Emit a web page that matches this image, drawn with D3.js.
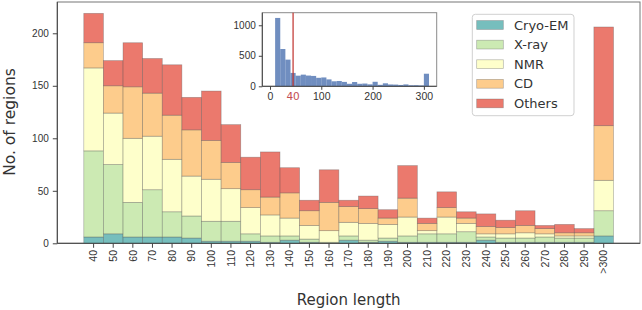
<!DOCTYPE html>
<html lang="en">
<head>
    <meta charset="UTF-8">
    <title>Region length distribution</title>
    <script src="https://cdn.jsdelivr.net/npm/d3@7/dist/d3.min.js"></script>
    <style>
        body { margin: 0; background: #fff; }
        svg { font-family: "DejaVu Sans", sans-serif; display: block; }
        .tick text { fill: #333; }
        .tick line, .domain { stroke: #444; }
    </style>
</head>
<body>
    <div id="chart"></div>

    <script>
        // =============================
        // 1. Data
        // =============================
        const lengthLabels = ["40", "50", "60", "70", "80", "90", "100", "110", "120", "130", "140", "150", "160",
            "170", "180", "190", "200", "210", "220", "230", "240", "250", "260", "270", "280", "290", ">300"];
        const cryoEM = [6, 9, 6, 6, 6, 5, 2, 2, 2, 1, 3, 1, 0, 3, 1, 2, 1, 1, 1, 1, 3, 1, 1, 1, 1, 1, 7];
        const xray   = [82, 66, 33, 45, 24, 21, 19, 19, 7, 6, 4, 3, 1, 4, 2, 3, 6, 8, 8, 10, 3, 4, 4, 5, 4, 4, 24];
        const nmr    = [79, 49, 61, 51, 50, 38, 40, 31, 25, 20, 17, 13, 11, 13, 16, 13, 18, 3, 16, 8, 3, 4, 5, 3, 2, 2, 29];
        const cd     = [24, 26, 49, 41, 42, 44, 37, 25, 17, 17, 24, 14, 27, 15, 14, 6, 18, 7, 9, 5, 7, 6, 7, 5, 3, 3, 52];
        const others = [28, 24, 42, 33, 48, 31, 47, 36, 31, 43, 24, 10, 31, 6, 12, 8, 31, 5, 15, 6, 12, 7, 14, 3, 8, 4, 94];

        const seriesNames = ["Cryo-EM", "X-ray", "NMR", "CD", "Others"];
        const seriesColors = ["#54aead", "#bfe5a0", "#feffbe", "#fdbf6f", "#e65848"];

        // inset histogram: bins below the cut-off, the rest are the stacked totals
        const insetBins = [10, 20, 30, 40, 50, 60, 70, 80, 90, 100, 110, 120, 130, 140, 150, 160, 170,
            180, 190, 200, 210, 220, 230, 240, 250, 260, 270, 280, 290, 300];
        const shortCounts = [1120, 611, 437];
        const binWidth = 10;
        const cutoffLine = 45;
        const cutoffLabel = "40";

        // =============================
        // 2. SVG setup
        // =============================
        const width = 642, height = 310;
        const plot = { left: 57.3, right: 640, top: 2, bottom: 243.3 };

        const svg = d3.select("#chart").append("svg")
            .attr("width", width)
            .attr("height", height);

        const table = lengthLabels.map((l, i) => ({
            label: l,
            "Cryo-EM": cryoEM[i], "X-ray": xray[i], "NMR": nmr[i], "CD": cd[i], "Others": others[i]
        }));
        const stacked = d3.stack().keys(seriesNames)(table);
        const totals = table.map(d => d3.sum(seriesNames, k => d[k]));

        const x = d3.scaleBand()
            .domain(lengthLabels)
            .range([plot.left, plot.right])
            .paddingInner(0)
            .paddingOuter(1.35);

        const y = d3.scaleLinear()
            .domain([0, 229.8])
            .range([plot.bottom, plot.top]);

        const color = d3.scaleOrdinal().domain(seriesNames).range(seriesColors);

        // frame
        svg.append("rect")
            .attr("x", plot.left).attr("y", plot.top)
            .attr("width", plot.right - plot.left)
            .attr("height", plot.bottom - plot.top)
            .attr("fill", "none")
            .attr("stroke", "#777")
            .attr("stroke-width", 1);

        // =============================
        // 3. Stacked bars
        // =============================
        svg.append("g")
            .selectAll("g")
            .data(stacked)
            .join("g")
            .attr("fill", d => color(d.key))
            .attr("fill-opacity", 0.8)
            .selectAll("rect")
            .data(d => d)
            .join("rect")
            .attr("x", d => x(d.data.label))
            .attr("width", x.bandwidth())
            .attr("y", d => y(d[1]))
            .attr("height", d => y(d[0]) - y(d[1]))
            .attr("stroke", "#5a5a5a")
            .attr("stroke-opacity", 0.45)
            .attr("stroke-width", 0.7);

        // axes
        const xAxis = svg.append("g")
            .attr("transform", `translate(0, ${plot.bottom})`)
            .call(d3.axisBottom(x).tickSize(4.5).tickSizeOuter(0));
        xAxis.select(".domain").remove();
        xAxis.selectAll("text")
            .attr("transform", "rotate(-90)")
            .attr("text-anchor", "end")
            .attr("x", -6.7)
            .attr("y", 0)
            .attr("dy", "0.35em")
            .attr("font-size", "10.5px");

        svg.append("line")
            .attr("x1", plot.left).attr("x2", plot.right)
            .attr("y1", plot.bottom).attr("y2", plot.bottom)
            .attr("stroke", "#444");

        const yAxis = svg.append("g")
            .attr("transform", `translate(${plot.left}, 0)`)
            .call(d3.axisLeft(y).tickValues([0, 50, 100, 150, 200]).tickSize(4.5).tickPadding(4).tickSizeOuter(0));
        yAxis.select(".domain").attr("d", `M0,${plot.bottom}V${plot.top}`);
        yAxis.selectAll("text").attr("font-size", "10px");

        svg.append("text")
            .attr("x", (plot.left + plot.right) / 2)
            .attr("y", 305)
            .attr("text-anchor", "middle")
            .attr("font-size", "15px")
            .attr("fill", "#333")
            .text("Region length");

        svg.append("text")
            .attr("transform", `translate(15, 122) rotate(-90)`)
            .attr("text-anchor", "middle")
            .attr("font-size", "15.5px")
            .attr("fill", "#333")
            .text("No. of regions");

        // =============================
        // 4. Legend
        // =============================
        const legend = svg.append("g").attr("transform", "translate(472.3, 14.3)");
        legend.append("rect")
            .attr("width", 101.7).attr("height", 101.4)
            .attr("rx", 3)
            .attr("fill", "#fff").attr("fill-opacity", 0.8)
            .attr("stroke", "#d0d0d0");
        const items = legend.selectAll("g.item")
            .data(seriesNames)
            .join("g")
            .attr("class", "item")
            .attr("transform", (d, i) => `translate(4.4, ${10.7 + i * 19.6})`);
        items.append("rect")
            .attr("y", -4.4).attr("width", 26.6).attr("height", 8.8)
            .attr("fill", d => color(d)).attr("fill-opacity", 0.8)
            .attr("stroke", "#5a5a5a").attr("stroke-opacity", 0.45).attr("stroke-width", 0.7);
        items.append("text")
            .attr("x", 37.3)
            .attr("dy", "0.35em")
            .attr("font-size", "13px")
            .attr("fill", "#333")
            .text(d => d);

        // =============================
        // 5. Inset histogram
        // =============================
        const inset = { left: 262.3, right: 436.7, top: 12.7, bottom: 86.3 };
        const insetCounts = shortCounts.concat(totals);

        const xi = d3.scaleLinear().domain([-15, 325]).range([inset.left, inset.right]);
        const yi = d3.scaleLinear().domain([0, 1206]).range([inset.bottom, inset.top]);

        svg.append("rect")
            .attr("x", inset.left).attr("y", inset.top)
            .attr("width", inset.right - inset.left)
            .attr("height", inset.bottom - inset.top)
            .attr("fill", "#fff")
            .attr("stroke", "#8a8a8a");

        svg.append("g")
            .selectAll("rect")
            .data(insetBins)
            .join("rect")
            .attr("x", d => xi(d))
            .attr("width", d => xi(d + binWidth) - xi(d))
            .attr("y", (d, i) => yi(insetCounts[i]))
            .attr("height", (d, i) => yi(0) - yi(insetCounts[i]))
            .attr("fill", "#4c72b0")
            .attr("fill-opacity", 0.8);

        svg.append("line")
            .attr("x1", xi(cutoffLine)).attr("x2", xi(cutoffLine))
            .attr("y1", inset.top).attr("y2", inset.bottom)
            .attr("stroke", "#c0302c")
            .attr("stroke-width", 1.2);

        const xiAxis = svg.append("g")
            .attr("transform", `translate(0, ${inset.bottom})`)
            .call(d3.axisBottom(xi).tickValues([0, 100, 200, 300]).tickSize(3.5).tickPadding(2.5).tickSizeOuter(0));
        xiAxis.select(".domain").attr("d", `M${inset.left},0H${inset.right}`);
        xiAxis.selectAll("text").attr("font-size", "10.5px");

        svg.append("text")
            .attr("x", xi(cutoffLine))
            .attr("y", inset.bottom + 6)
            .attr("dy", "0.71em")
            .attr("text-anchor", "middle")
            .attr("font-size", "10.5px")
            .attr("fill", "#c44e52")
            .text(cutoffLabel);

        const yiAxis = svg.append("g")
            .attr("transform", `translate(${inset.left}, 0)`)
            .call(d3.axisLeft(yi).tickValues([0, 500, 1000]).tickFormat(d3.format("d"))
                .tickSize(3.5).tickPadding(3).tickSizeOuter(0));
        yiAxis.select(".domain").attr("d", `M0,${inset.bottom}V${inset.top}`);
        yiAxis.selectAll("text").attr("font-size", "10px");
    </script>
</body>
</html>
